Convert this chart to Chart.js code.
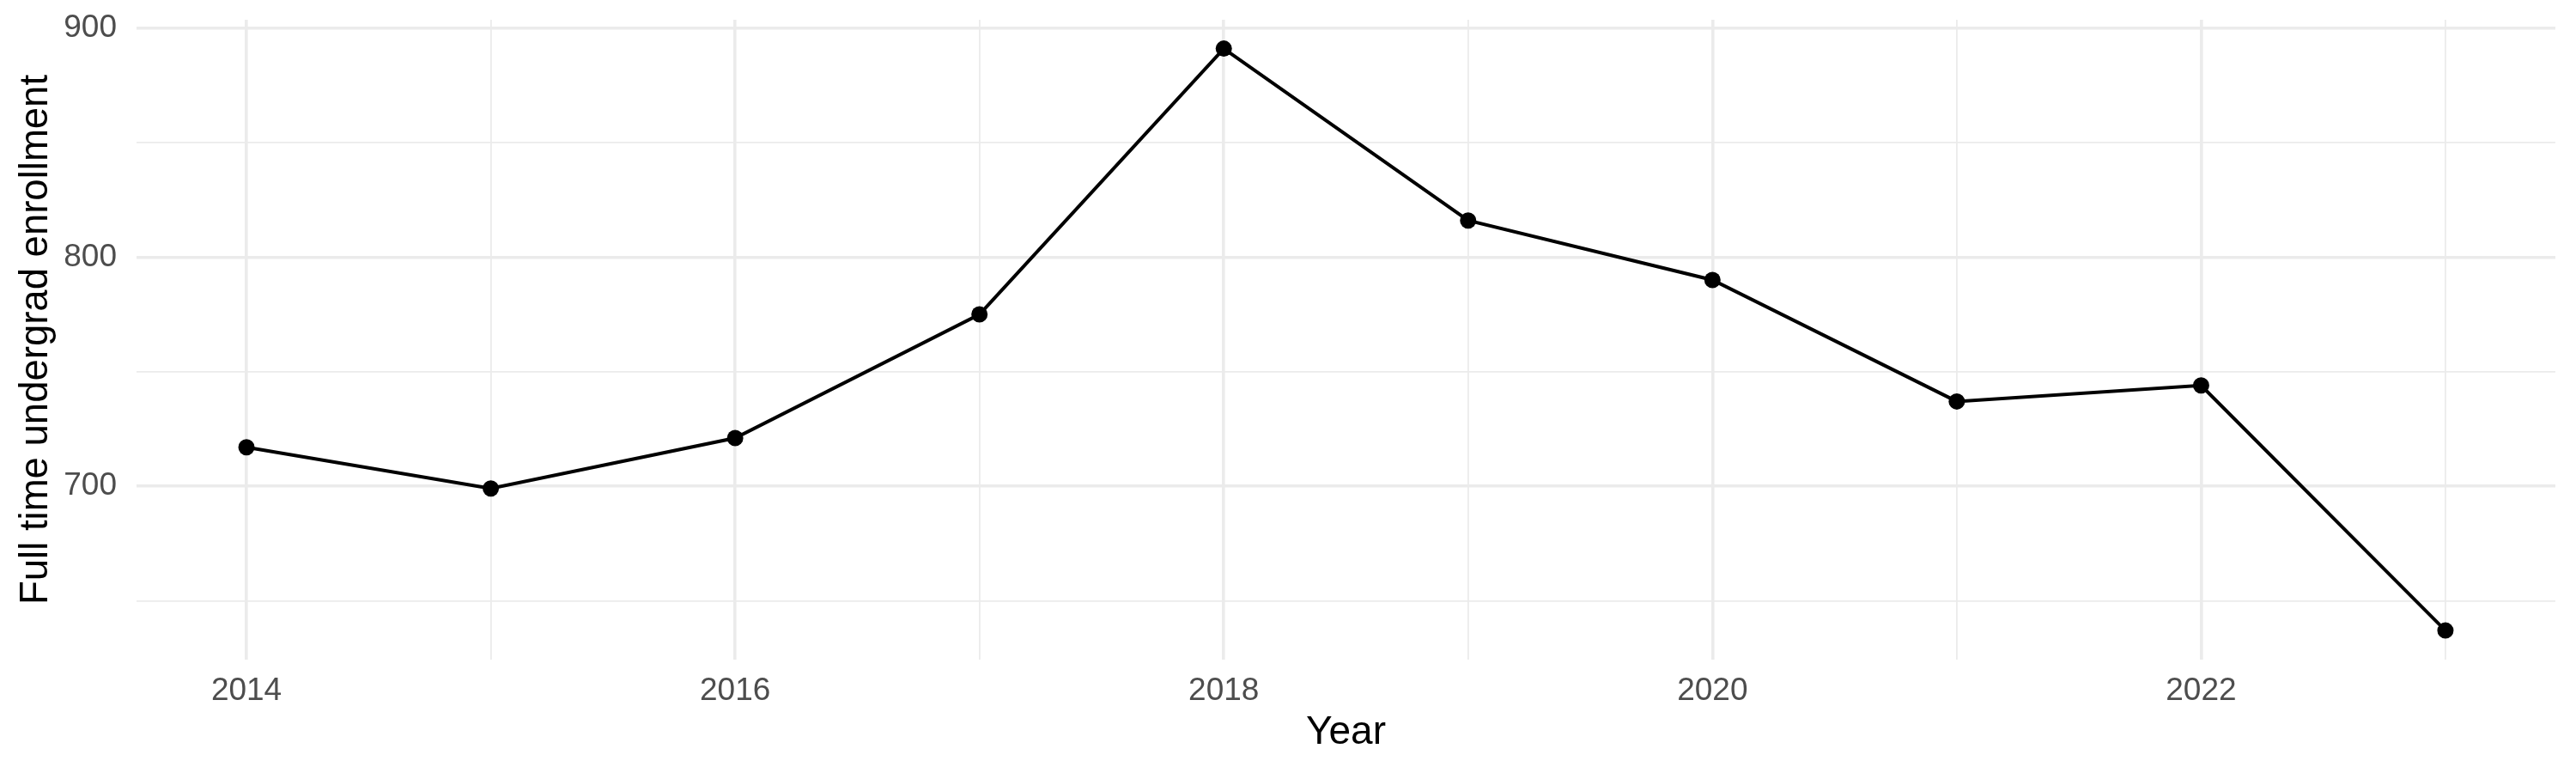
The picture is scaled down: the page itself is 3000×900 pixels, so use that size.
<!DOCTYPE html>
<html>
<head>
<meta charset="utf-8">
<script src="https://cdn.jsdelivr.net/npm/chart.js@4"></script>
<style>
  html, body { margin: 0; padding: 0; background: #ffffff; }
  canvas { display: block; }
</style>
</head>
<body>
<canvas id="mychart" width="3000" height="900"></canvas>
<script>
const years = [2014, 2015, 2016, 2017, 2018, 2019, 2020, 2021, 2022, 2023];
const enrollment = [717, 699, 721, 775, 891, 816, 790, 737, 744, 637];

const xTicks = [2014, 2015, 2016, 2017, 2018, 2019, 2020, 2021, 2022, 2023];
const xTickLabels = ['2014', '', '2016', '', '2018', '', '2020', '', '2022', ''];
const yTicks = [650, 700, 750, 800, 850, 900];
const yTickLabels = ['', '700', '', '800', '', '900'];

const gridColor = '#ebebeb';
const fontFamily = '"Liberation Sans", Arial, sans-serif';

const ctx = document.getElementById('mychart').getContext('2d');
const myChart = new Chart(ctx, {
    type: 'line',
    data: {
        datasets: [{
            data: years.map((y, i) => ({ x: y, y: enrollment[i] })),
            borderColor: '#000000',
            borderWidth: 4,
            backgroundColor: '#000000',
            pointRadius: 9.5,
            pointBorderWidth: 0,
            pointBackgroundColor: '#000000',
            tension: 0,
            clip: false
        }]
    },
    options: {
        responsive: false,
        devicePixelRatio: 1,
        animation: false,
        events: [],
        layout: { padding: { top: 23, right: 24, bottom: 0, left: 0 } },
        plugins: {
            legend: { display: false },
            tooltip: { enabled: false }
        },
        scales: {
            x: {
                type: 'linear',
                min: 2013.55,
                max: 2023.45,
                afterBuildTicks: (scale) => { scale.ticks = xTicks.map(v => ({ value: v })); },
                afterFit: (scale) => {
                    scale.height = 132;
                    scale.paddingLeft = 0;
                    scale.paddingRight = 0;
                },
                border: { display: false },
                grid: {
                    color: gridColor,
                    drawTicks: false,
                    lineWidth: (c) => (c.tick && c.tick.value % 2 === 0) ? 3.6 : 1.8
                },
                ticks: {
                    padding: 15,
                    color: '#4d4d4d',
                    font: { family: fontFamily, size: 37 },
                    maxRotation: 0,
                    autoSkip: false,
                    callback: (value, index) => xTickLabels[index]
                },
                title: {
                    display: true,
                    text: 'Year',
                    color: '#000000',
                    font: { family: fontFamily, size: 46 },
                    padding: { top: 0, bottom: 19 }
                }
            },
            y: {
                type: 'linear',
                min: 624.3,
                max: 903.6,
                afterBuildTicks: (scale) => { scale.ticks = yTicks.map(v => ({ value: v })); },
                // keep the plot box where the reference has it
                afterFit: (scale) => {
                    scale.width = 159;
                    scale.paddingTop = 0;
                    scale.paddingBottom = 0;
                },
                border: { display: false },
                grid: {
                    color: gridColor,
                    drawTicks: false,
                    lineWidth: (c) => (c.tick && c.tick.value % 100 === 0) ? 3.6 : 1.8
                },
                ticks: {
                    padding: 23,
                    color: '#4d4d4d',
                    font: { family: fontFamily, size: 37 },
                    autoSkip: false,
                    callback: (value, index) => yTickLabels[index]
                },
                title: {
                    display: true,
                    text: 'Full time undergrad enrollment',
                    color: '#000000',
                    font: { family: fontFamily, size: 45.5 },
                    padding: { top: 15, bottom: 0 }
                }
            }
        }
    }
});
</script>
</body>
</html>
